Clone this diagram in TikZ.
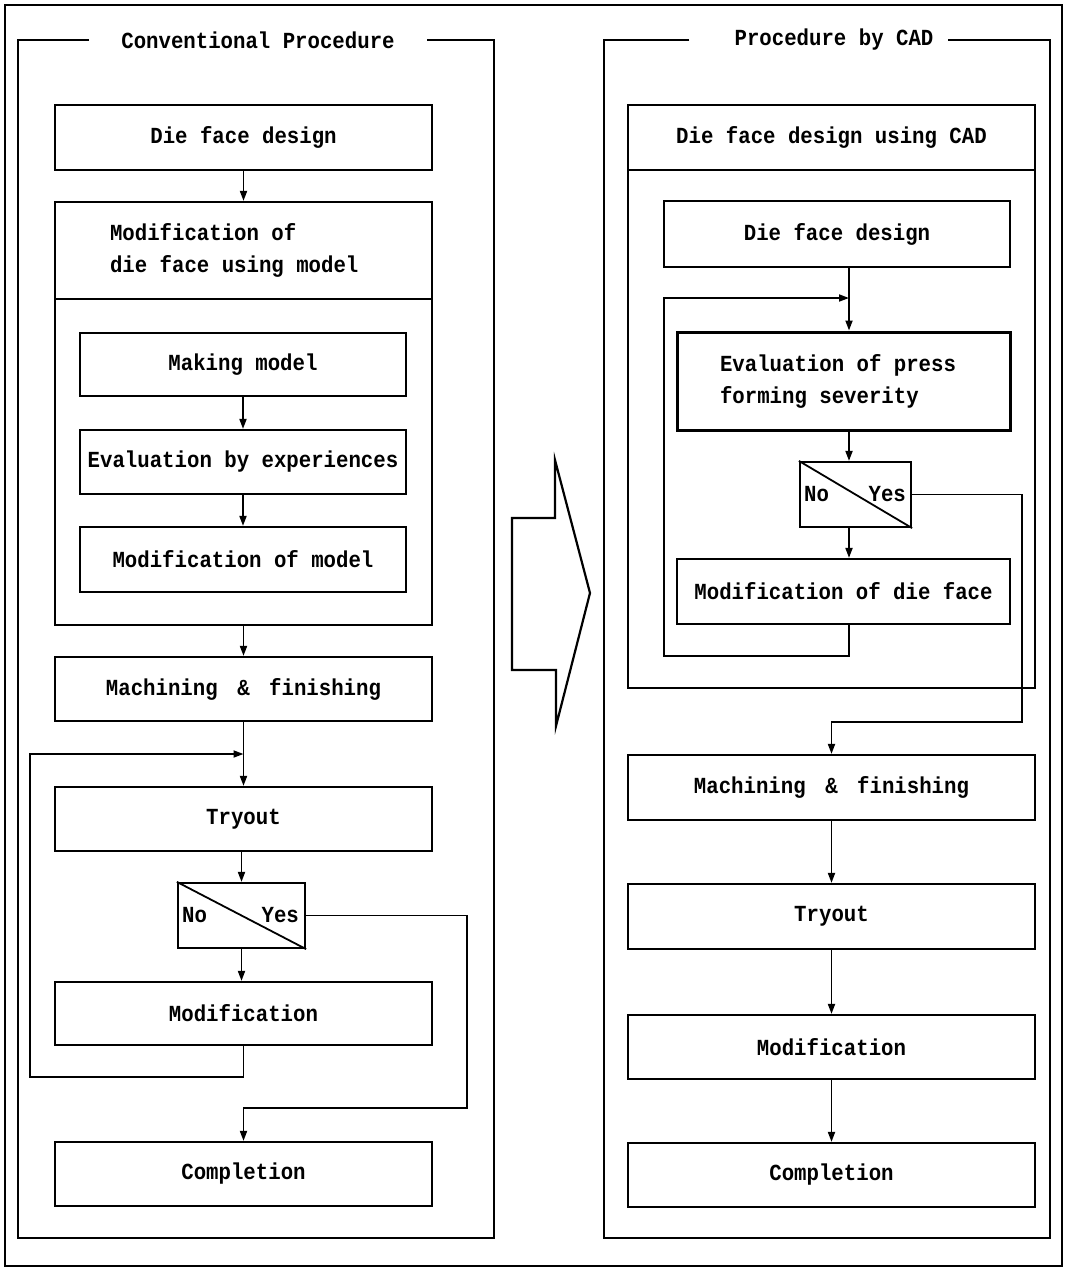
\documentclass[tikz,border=0pt]{standalone}
\usepackage{fontspec}
\setmonofont{Liberation Mono}[FakeStretch=0.9]
\usetikzlibrary{arrows.meta,calc}

\begin{document}
\begin{tikzpicture}[x=1pt, y=-1pt,
  stage/.style={
    rectangle, draw, line width=2.2pt, inner sep=2pt, align=center,
    font=\ttfamily\bfseries\fontsize{23}{32}\selectfont
  },
  lbl/.style={inner sep=1pt, font=\ttfamily\bfseries\fontsize{23}{32}\selectfont},
  heading/.style={inner ysep=2pt, inner xsep=14pt,
    font=\ttfamily\bfseries\fontsize{23}{32}\selectfont},
  frame/.style={draw, line width=2.2pt},
  wire/.style={line width=1.8pt},
  flow/.style={-{Triangle[length=10pt,width=7pt]}, line width=1.8pt}
]
\useasboundingbox (0,0) rectangle (1067,1272);
\draw[frame] (5,5) rectangle (1062,1266);

\node[heading, inner xsep=32pt] (ltitle) at (258,40) {Conventional Procedure};
\draw[frame] (ltitle.west) -| (18,1238) -| (494,40) -- (ltitle.east);
\node[heading] (rtitle) at (834,40) {Procedure by CAD};
\draw[frame] ([xshift=-31pt]rtitle.west) -| (604,1238) -| (1050,40) -- (rtitle.east);

\node[stage, minimum width=377, minimum height=65] (ldesign) at (243.5,137.5) {Die face design};
\node[stage, minimum width=377, minimum height=423] (lmodbox) at (243.5,413.5) {};
\node[stage, minimum width=377, minimum height=97, anchor=north, align=left, text width=267]
  (lmodhead) at (lmodbox.north) {\spaceskip=0.54em\relax Modification of\\die face using model};
\node[stage, minimum width=326, minimum height=63] (lmake) at (243,364.5) {Making model};
\node[stage, minimum width=326, minimum height=64] (leval) at (243,462) {Evaluation by experiences};
\node[stage, minimum width=326, minimum height=65] (lmodm) at (243,559.5) {Modification of model};
\node[stage, minimum width=377, minimum height=64] (lmach) at (243.5,689)
  {Machining\hspace{0.85em}\&\hspace{0.85em}finishing};
\node[stage, minimum width=377, minimum height=64] (ltry) at (243.5,819) {Tryout};
\node[stage, minimum width=127, minimum height=65] (ldec) at (241.5,915.5) {};
\draw[wire] (ldec.north west) -- (ldec.south east);
\node[lbl, anchor=west] (ldecno) at ([xshift=4pt]ldec.west) {No};
\node[lbl, anchor=east] (ldecyes) at ([xshift=-6pt]ldec.east) {Yes};
\node[stage, minimum width=377, minimum height=63] (lmod) at (243.5,1013.5) {Modification};
\node[stage, minimum width=377, minimum height=64] (lcomp) at (243.5,1174) {Completion};

\coordinate (ljoin) at ($(lmach.south)!0.5!(ltry.north)$);
\coordinate (lret) at (30,1077);
\coordinate (lyes) at (467,1108);
\draw[flow] (ldesign.south) -- (lmodbox.north);
\draw[flow] (lmake.south) -- (leval.north);
\draw[flow] (leval.south) -- (lmodm.north);
\draw[flow] (lmodbox.south) -- (lmach.north);
\draw[flow] (lmach.south) -- (ltry.north);
\draw[flow] (ltry.south -| ldec.north) -- (ldec.north);
\draw[flow] (ldec.south) -- (lmod.north -| ldec.south);
\draw[flow] (lmod.south) |- (lret) |- (ljoin);
\draw[flow] (ldec.east) -| (lyes) -| (lcomp.north);

\draw[line width=2.2pt, line join=miter]
  (512,518) -- (555,518) -- (555,460) -- (590,593) -- (556,726) -- (556,670) -- (512,670) -- cycle;

\node[stage, minimum width=407, minimum height=583] (rcadbox) at (831.5,396.5) {};
\node[stage, minimum width=407, minimum height=65, anchor=north]
  (rcadhead) at (rcadbox.north) {Die face design using CAD};
\node[stage, minimum width=346, minimum height=66] (rdesign) at (837,234) {Die face design};
\node[stage, line width=3pt, minimum width=333, minimum height=98, align=left, text width=247]
  (reval) at (843.5,381) {\spaceskip=0.54em\relax Evaluation of press\\forming severity};
\node[stage, minimum width=111, minimum height=65] (rdec) at (855.5,494.5) {};
\draw[wire] (rdec.north west) -- (rdec.south east);
\node[lbl, anchor=west] (rdecno) at ([xshift=4pt]rdec.west) {No};
\node[lbl, anchor=east] (rdecyes) at ([xshift=-5pt]rdec.east) {Yes};
\node[stage, minimum width=333, minimum height=65] (rmodf) at (843.5,591.5) {Modification of die face};
\node[stage, minimum width=407, minimum height=65] (rmach) at (831.5,787.5)
  {Machining\hspace{0.85em}\&\hspace{0.85em}finishing};
\node[stage, minimum width=407, minimum height=65] (rtry) at (831.5,916.5) {Tryout};
\node[stage, minimum width=407, minimum height=64] (rmod) at (831.5,1047) {Modification};
\node[stage, minimum width=407, minimum height=64] (rcomp) at (831.5,1175) {Completion};

\coordinate (rjoin) at (849,298);
\coordinate (rret) at (664,656);
\coordinate (ryes) at (1022,722);
\draw[flow] (rdesign.south -| rjoin) -- (reval.north -| rjoin);
\draw[flow] (reval.south -| rjoin) -- (rdec.north -| rjoin);
\draw[flow] (rdec.south -| rjoin) -- (rmodf.north -| rjoin);
\draw[flow] (rmodf.south -| rjoin) |- (rret) |- (rjoin);
\draw[flow] (rdec.east) -| (ryes) -| (rmach.north);
\draw[flow] (rmach.south) -- (rtry.north);
\draw[flow] (rtry.south) -- (rmod.north);
\draw[flow] (rmod.south) -- (rcomp.north);
\end{tikzpicture}
\end{document}
